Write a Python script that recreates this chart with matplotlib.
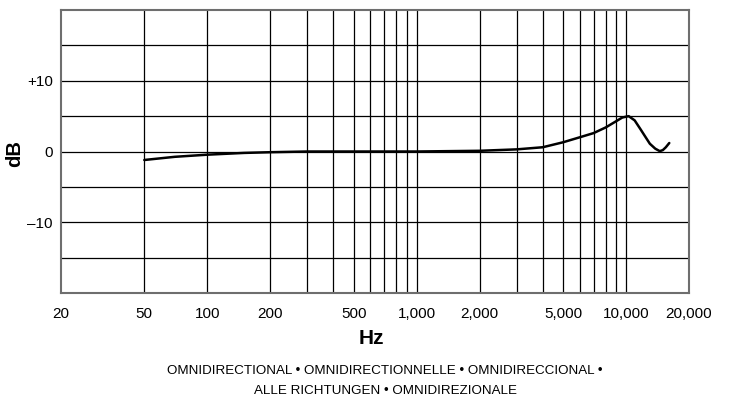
import matplotlib
matplotlib.use("Agg")
import matplotlib.pyplot as plt

plt.rcParams['font.family'] = ['Liberation Sans', 'DejaVu Sans']

# Frequency response data
freq_hz = [50, 70, 100, 150, 200, 300, 500, 1000, 2000, 3000, 4000, 5000, 6000,
           7000, 8000, 9000, 9600, 10300, 11000, 11700, 12300, 13000, 13800,
           14500, 15000, 15500, 16100]
response_db = [-1.2, -0.75, -0.45, -0.2, -0.1, 0.0, 0.0, 0.0, 0.1, 0.3, 0.6, 1.3, 2.0,
               2.6, 3.4, 4.3, 4.8, 5.0, 4.4, 3.2, 2.2, 1.1, 0.4,
               0.05, 0.2, 0.6, 1.2]

x_tick_values = [20, 50, 100, 200, 500, 1000, 2000, 5000, 10000, 20000]
x_tick_labels = ["20", "50", "100", "200", "500", "1,000", "2,000", "5,000", "10,000", "20,000"]
x_grid_values = [50, 100, 200, 300, 400, 500, 600, 700, 800, 900, 1000,
                 2000, 3000, 4000, 5000, 6000, 7000, 8000, 9000, 10000]
y_tick_values = [-10, 0, 10]
y_tick_labels = ["\u201310", "0", "+10"]
y_grid_values = [-15, -10, -5, 0, 5, 10, 15]

caption_lines = ["OMNIDIRECTIONAL \u2022 OMNIDIRECTIONNELLE \u2022 OMNIDIRECCIONAL \u2022",
                 "ALLE RICHTUNGEN \u2022 OMNIDIREZIONALE"]

W, H = 734, 400
fig = plt.figure(figsize=(W / 100, H / 100), dpi=100)
ax = fig.add_axes([61 / W, 1 - 293 / H, (689 - 61) / W, (293 - 10) / H])
ax.set_xscale('log')
ax.set_xlim(20, 20000)
ax.set_ylim(-20, 20)

for xv in x_grid_values:
    ax.axvline(xv, color='black', lw=0.9, zorder=1)
for yv in y_grid_values:
    ax.axhline(yv, color='black', lw=0.9, zorder=1)

ax.plot(freq_hz, response_db, color='black', lw=1.8, zorder=3, solid_capstyle='round')

ax.minorticks_off()
ax.set_xticks(x_tick_values)
ax.set_xticklabels(x_tick_labels, fontsize=11)
ax.set_yticks(y_tick_values)
ax.set_yticklabels(y_tick_labels, fontsize=11)
ax.tick_params(axis='x', length=0, pad=10)
ax.tick_params(axis='y', length=0, pad=6)
for s in ax.spines.values():
    s.set_color('#6e6e6e')
    s.set_linewidth(1.5)

fig.text(371 / W, 1 - 339 / H, "Hz", ha='center', va='center', fontsize=15, fontweight='bold')
fig.text(15 / W, 1 - 154 / H, "dB", ha='center', va='center', fontsize=14.5,
         fontweight='bold', rotation=90)
fig.text(385 / W, 1 - 371 / H, caption_lines[0], ha='center', va='center', fontsize=9.6)
fig.text(385 / W, 1 - 391 / H, caption_lines[1], ha='center', va='center', fontsize=9.6)

fig.savefig("out.png", dpi=100, facecolor='white')
